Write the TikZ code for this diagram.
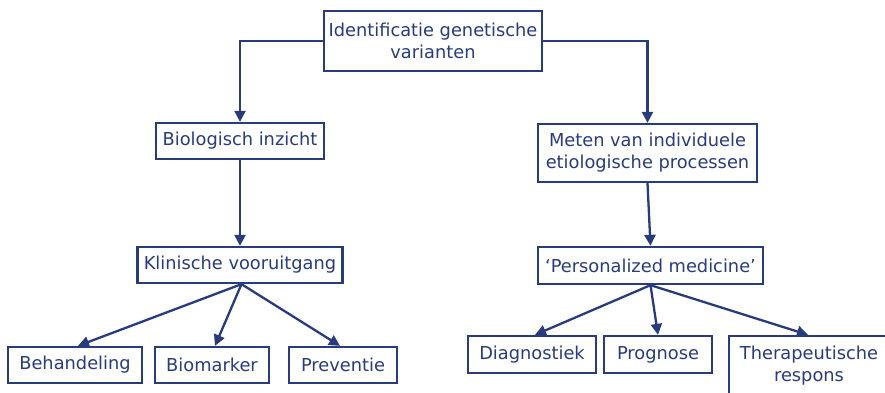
\documentclass[tikz,border=0pt]{standalone}
\usepackage{fontspec}
\setmainfont{DejaVu Sans}
\usetikzlibrary{arrows.meta,calc}
\definecolor{navy}{RGB}{40,60,125}
\tikzset{
  box/.style={draw=navy, line width=2.3pt, text=navy, inner sep=0pt,
    align=center, font=\fontsize{17.8}{22}\selectfont},
  link/.style={draw=navy, line width=2.3pt,
    -{Triangle[length=11pt,width=11pt]}}
}
\begin{document}
\begin{tikzpicture}[x=1pt,y=-1pt]
\useasboundingbox (0,0) rectangle (885,392);
\fill[white] (0,0) rectangle (885,392);

% top level
\node[box, minimum width=218pt, minimum height=60pt] (top) at (433,41)
  {Identificatie genetische\\varianten};

% second level
\node[box, minimum width=168pt, minimum height=36pt] (bio) at (240,141)
  {Biologisch inzicht};
\node[box, minimum width=219pt, minimum height=58pt] (meten) at (647.5,153)
  {Meten van individuele\\etiologische processen};

% third level
\node[box, minimum width=205pt, minimum height=36pt] (klin) at (240,265)
  {Klinische vooruitgang};
\node[box, minimum width=225pt, minimum height=37pt] (pers) at (650.5,265.5)
  {`Personalized medicine'};

% leaves, left branch
\node[box, minimum width=134pt, minimum height=36pt] (beh) at (75,365)
  {Behandeling};
\node[box, minimum width=114pt, minimum height=36pt] (biom) at (212,365)
  {Biomarker};
\node[box, minimum width=108pt, minimum height=36pt] (prev) at (343,365)
  {Preventie};

% leaves, right branch (last box runs past the right edge of the page)
\node[box, minimum width=128pt, minimum height=37pt] (diag) at (532,354.5)
  {Diagnostiek};
\node[box, minimum width=108pt, minimum height=37pt] (prog) at (658,354.5)
  {Prognose};
\node[box, minimum width=200pt, minimum height=60pt] (ther) at (829,366)
  {\begin{tabular}{@{}c@{}}Therapeutische\\respons\end{tabular}\hspace*{40pt}};

% connectors
\draw[link] (top.west) -| (bio.north);
\draw[link] (top.east) -| (meten.north);
\draw[link] (bio.south) -- (klin.north);
\draw[link] (meten.south) -- (pers.north);

\coordinate (kfan) at ($(klin.south)+(1.5,0)$);
\draw[link] (kfan) -- ($(beh.north)+(3,0)$);
\draw[link] (kfan) -- ($(biom.north)+(3,0)$);
\draw[link] (kfan) -- ($(prev.north)+(-3,0)$);

\coordinate (pfan) at (pers.south);
\draw[link] (pfan) -- ($(diag.north)+(3,0)$);
\draw[link] (pfan) -- (prog.north);
\draw[link] (pfan) -- ($(ther.north)+(-21,0)$);
\end{tikzpicture}
\end{document}
